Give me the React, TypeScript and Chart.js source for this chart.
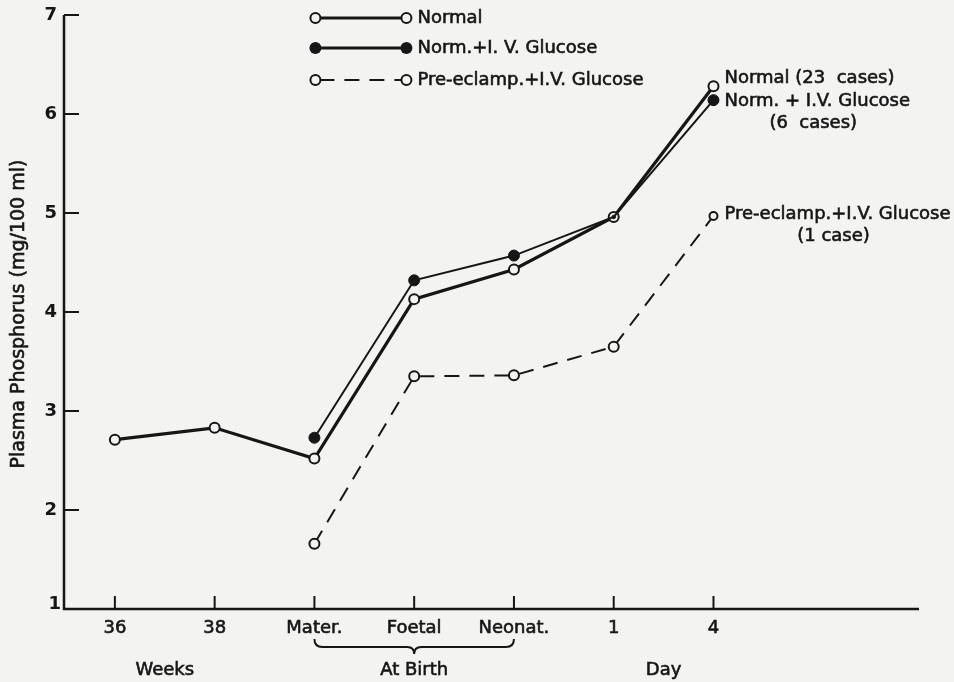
import React, { useEffect, useRef } from 'react';
import { Chart, registerables } from 'chart.js';

Chart.register(...registerables);

// Sampling points along the x axis (weeks of gestation, birth, days after birth)
const xLabels = ['36', '38', 'Mater.', 'Foetal', 'Neonat.', '1', '4'];
const yTickValues = [1, 2, 3, 4, 5, 6, 7];

// Plasma phosphorus, mg/100 ml
const normalX = [0, 1, 2, 3, 4, 5, 6];
const normalY = [2.71, 2.83, 2.52, 4.13, 4.43, 4.96, 6.28];

const glucoseX = [2, 3, 4, 5, 6];
const glucoseY = [2.73, 4.32, 4.57, 4.96, 6.14];

const preEclampX = [2, 3, 4, 5, 6];
const preEclampY = [1.66, 3.35, 3.36, 3.65, 4.97];

const seriesNames = ['Normal', 'Norm.+I. V. Glucose', 'Pre-eclamp.+I.V. Glucose'];
const endLabelLines = [
  ['Normal (23  cases)'],
  ['Norm. + I.V. Glucose', '(6  cases)'],
  ['Pre-eclamp.+I.V. Glucose', '(1 case)'],
];
const groupNames = ['Weeks', 'At Birth', 'Day'];
const groupCenters = [0.5, 3, 5.5];
const birthSpan = [2, 4];
const yTitle = 'Plasma Phosphorus (mg/100 ml)';

const INK = '#161616';
const PAPER = '#f3f3f1';
const FONT = '"DejaVu Sans", sans-serif';

const toPoints = (xs: number[], ys: number[]) => xs.map((x, i) => ({ x, y: ys[i] }));

// lettering drawn slightly heavier than the plain regular weight
function ink(ctx: CanvasRenderingContext2D, text: string, x: number, y: number) {
  ctx.fillText(text, x, y);
  ctx.save();
  ctx.lineWidth = 0.6;
  ctx.strokeStyle = INK;
  ctx.setLineDash([]);
  ctx.strokeText(text, x, y);
  ctx.restore();
}

function openCircle(ctx: CanvasRenderingContext2D, x: number, y: number, r: number) {
  ctx.beginPath();
  ctx.arc(x, y, r, 0, Math.PI * 2);
  ctx.fillStyle = PAPER;
  ctx.fill();
  ctx.lineWidth = 2;
  ctx.strokeStyle = INK;
  ctx.stroke();
}

function filledCircle(ctx: CanvasRenderingContext2D, x: number, y: number, r: number) {
  ctx.beginPath();
  ctx.arc(x, y, r, 0, Math.PI * 2);
  ctx.fillStyle = INK;
  ctx.fill();
}

const framePlugin = {
  id: 'frame',
  beforeDraw(chart: any) {
    const { ctx, width, height } = chart;
    ctx.save();
    ctx.fillStyle = PAPER;
    ctx.fillRect(0, 0, width, height);
    ctx.restore();
  },
  beforeDatasetsDraw(chart: any) {
    const { ctx, chartArea } = chart;
    const xs = chart.scales.x;
    const ys = chart.scales.y;
    const left = chartArea.left;
    const bottom = ys.getPixelForValue(yTickValues[0]);
    const top = ys.getPixelForValue(yTickValues[yTickValues.length - 1]);

    ctx.save();
    ctx.strokeStyle = INK;
    ctx.lineCap = 'butt';

    // axis lines
    ctx.lineWidth = 2.5;
    ctx.beginPath();
    ctx.moveTo(left, top);
    ctx.lineTo(left, bottom);
    ctx.lineTo(chartArea.right, bottom);
    ctx.stroke();

    // inward ticks on the y axis
    ctx.lineWidth = 2;
    yTickValues.slice(1).forEach((v) => {
      const py = ys.getPixelForValue(v);
      ctx.beginPath();
      ctx.moveTo(left, py);
      ctx.lineTo(left + 15, py);
      ctx.stroke();
    });

    // upward ticks on the x axis
    xLabels.forEach((_, i) => {
      const px = xs.getPixelForValue(i);
      ctx.beginPath();
      ctx.moveTo(px, bottom);
      ctx.lineTo(px, bottom - 13);
      ctx.stroke();
    });

    // tick labels
    ctx.fillStyle = INK;
    ctx.font = `bold 18px ${FONT}`;
    ctx.textAlign = 'right';
    ctx.textBaseline = 'middle';
    yTickValues.forEach((v) => {
      const py = ys.getPixelForValue(v);
      ctx.fillText(String(v), v === 1 ? left - 3 : left - 7, v === 1 ? py - 5 : py);
    });

    ctx.font = `18px ${FONT}`;
    ctx.textAlign = 'center';
    xLabels.forEach((label, i) => {
      ink(ctx, label, xs.getPixelForValue(i), bottom + 19);
    });

    // brace under the birth samples
    const bx1 = xs.getPixelForValue(birthSpan[0]);
    const bx2 = xs.getPixelForValue(birthSpan[1]);
    const bc = (bx1 + bx2) / 2;
    const by0 = bottom + 30;
    const by1 = bottom + 38;
    const tip = bottom + 45;
    ctx.lineWidth = 2;
    ctx.beginPath();
    ctx.moveTo(bx1, by0);
    ctx.quadraticCurveTo(bx1, by1, bx1 + 8, by1);
    ctx.lineTo(bc - 7, by1);
    ctx.quadraticCurveTo(bc, by1, bc, tip);
    ctx.quadraticCurveTo(bc, by1, bc + 7, by1);
    ctx.lineTo(bx2 - 8, by1);
    ctx.quadraticCurveTo(bx2, by1, bx2, by0);
    ctx.stroke();

    // group captions
    groupNames.forEach((name, i) => {
      ink(ctx, name, xs.getPixelForValue(groupCenters[i]), bottom + 61);
    });

    // y axis title
    ctx.save();
    ctx.translate(19, (top + bottom) / 2 + 2);
    ctx.rotate(-Math.PI / 2);
    ctx.font = `19px ${FONT}`;
    ink(ctx, yTitle, 0, 0);
    ctx.restore();

    ctx.restore();
  },
  afterDatasetsDraw(chart: any) {
    const { ctx } = chart;
    const xs = chart.scales.x;
    const ys = chart.scales.y;

    ctx.save();
    ctx.strokeStyle = INK;
    ctx.fillStyle = INK;

    // legend
    const lx1 = xs.getPixelForValue(2) + 1;
    const lx2 = lx1 + 91;
    const rows = [18, 48, 80].map((d) => chart.chartArea.top + d - 15);
    rows.forEach((ry, i) => {
      ctx.save();
      ctx.lineWidth = i === 2 ? 2 : 3;
      if (i === 2) ctx.setLineDash([15, 10]);
      ctx.lineDashOffset = i === 2 ? -4 : 0;
      ctx.beginPath();
      ctx.moveTo(lx1, ry);
      ctx.lineTo(lx2, ry);
      ctx.stroke();
      ctx.restore();
      if (i === 1) {
        filledCircle(ctx, lx1, ry, 6);
        filledCircle(ctx, lx2, ry, 6);
      } else {
        openCircle(ctx, lx1, ry, 5);
        openCircle(ctx, lx2, ry, 5);
      }
      ctx.fillStyle = INK;
      ctx.font = `18px ${FONT}`;
      ctx.textAlign = 'left';
      ctx.textBaseline = 'middle';
      ink(ctx, seriesNames[i], lx2 + 11, ry);
    });

    // labels at the day-4 end of each curve
    const ends = [normalY[normalY.length - 1], glucoseY[glucoseY.length - 1], preEclampY[preEclampY.length - 1]];
    const shifts = [-8, 1, -2];
    const ax = xs.getPixelForValue(6) + 11;
    ctx.font = `18px ${FONT}`;
    ctx.textBaseline = 'middle';
    endLabelLines.forEach((lines, i) => {
      const py = ys.getPixelForValue(ends[i]) + shifts[i];
      ctx.textAlign = 'left';
      ink(ctx, lines[0], ax, py);
      if (lines[1]) {
        const w = ctx.measureText(lines[0]).width;
        ctx.textAlign = 'center';
        ink(ctx, lines[1], ax + w / 2 - 4, py + 22);
      }
    });

    ctx.restore();
  },
};

export default function App() {
  const canvasRef = useRef<HTMLCanvasElement | null>(null);

  useEffect(() => {
    const canvas = canvasRef.current;
    if (!canvas) return;

    const chart = new Chart(canvas, {
      type: 'line',
      data: {
        datasets: [
          {
            label: seriesNames[1],
            data: toPoints(glucoseX, glucoseY),
            borderColor: INK,
            borderWidth: 2,
            pointRadius: [5.5, 5.5, 5.5, 1.8, 5.5],
            pointBackgroundColor: INK,
            pointBorderColor: INK,
            pointBorderWidth: 1,
            tension: 0,
          },
          {
            label: seriesNames[0],
            data: toPoints(normalX, normalY),
            borderColor: INK,
            borderWidth: 3.2,
            pointRadius: 5,
            pointBackgroundColor: PAPER,
            pointBorderColor: INK,
            pointBorderWidth: 2,
            tension: 0,
          },
          {
            label: seriesNames[2],
            data: toPoints(preEclampX, preEclampY),
            borderColor: INK,
            borderWidth: 2,
            borderDash: [15, 10],
            pointRadius: [5, 5, 5, 5, 4],
            pointBackgroundColor: PAPER,
            pointBorderColor: INK,
            pointBorderWidth: 2,
            tension: 0,
          },
        ],
      },
      options: {
        responsive: false,
        animation: false,
        layout: { padding: { left: 64, top: 15, right: 35, bottom: 73 } },
        scales: {
          x: { type: 'linear', min: -0.51, max: 8.06, display: false },
          y: { type: 'linear', min: 1, max: 7, display: false },
        },
        plugins: {
          legend: { display: false },
          tooltip: { enabled: false },
        },
      },
      plugins: [framePlugin],
    });

    return () => chart.destroy();
  }, []);

  return (
    <div style={{ position: 'fixed', left: 0, top: 0, width: 954, height: 682, background: PAPER }}>
      <canvas ref={canvasRef} width={954} height={682} style={{ display: 'block' }} />
    </div>
  );
}
